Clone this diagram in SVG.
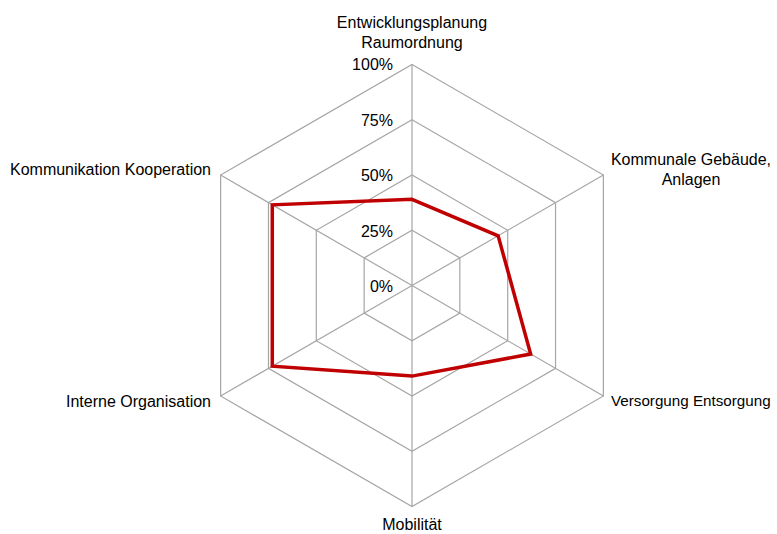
<svg xmlns="http://www.w3.org/2000/svg" width="777" height="534" viewBox="0 0 777 534">
<style>
.grid{fill:none;stroke:#a6a6a6;stroke-width:1.2}
.series{fill:none;stroke:#c00000;stroke-width:3.5;stroke-linejoin:miter}
text{font-family:"Liberation Sans",Arial,sans-serif;font-size:16px;fill:#000}
.tick{text-anchor:end}
.mid{text-anchor:middle}
</style>
<rect width="777" height="534" fill="#ffffff"/>
<g id="grid">
<polygon class="grid" points="412,64.5 603.39,175 603.39,396 412,506.5 220.61,396 220.61,175"/>
<polygon class="grid" points="412,119.75 555.54,202.63 555.54,368.38 412,451.25 268.46,368.38 268.46,202.63"/>
<polygon class="grid" points="412,175 507.7,230.25 507.7,340.75 412,396 316.3,340.75 316.3,230.25"/>
<polygon class="grid" points="412,230.25 459.85,257.88 459.85,313.13 412,340.75 364.15,313.13 364.15,257.88"/>
</g>
<g id="connectors">
<line class="grid" x1="412" y1="285.5" x2="412" y2="64.5"/>
<line class="grid" x1="412" y1="285.5" x2="603.39" y2="175"/>
<line class="grid" x1="412" y1="285.5" x2="603.39" y2="396"/>
<line class="grid" x1="412" y1="285.5" x2="412" y2="506.5"/>
<line class="grid" x1="412" y1="285.5" x2="220.61" y2="396"/>
<line class="grid" x1="412" y1="285.5" x2="220.61" y2="175"/>
</g>
<g id="series">
<polygon class="series" points="412,199.3 498.13,235.78 530.66,354.01 412,376.11 272.29,366.17 272.29,204.83"/>
</g>
<g id="ticks">
<text class="tick" x="393" y="70">100%</text>
<text class="tick" x="393" y="125.5">75%</text>
<text class="tick" x="393" y="180.8">50%</text>
<text class="tick" x="393" y="236.5">25%</text>
<text class="tick" x="393" y="291.5">0%</text>
</g>
<g id="axis-entwicklungsplanung">
<text class="mid" x="412" y="28">Entwicklungsplanung</text>
<text class="mid" x="412" y="48">Raumordnung</text>
</g>
<g id="axis-kommunale-gebaeude">
<text class="mid" x="691" y="165">Kommunale Gebäude,</text>
<text class="mid" x="691" y="185">Anlagen</text>
</g>
<g id="axis-versorgung">
<text x="611" y="406" style="font-size:15.2px">Versorgung Entsorgung</text>
</g>
<g id="axis-mobilitaet">
<text class="mid" x="412" y="530">Mobilität</text>
</g>
<g id="axis-interne-organisation">
<text text-anchor="end" x="211" y="407">Interne Organisation</text>
</g>
<g id="axis-kommunikation">
<text text-anchor="end" x="211" y="175">Kommunikation Kooperation</text>
</g>
</svg>
